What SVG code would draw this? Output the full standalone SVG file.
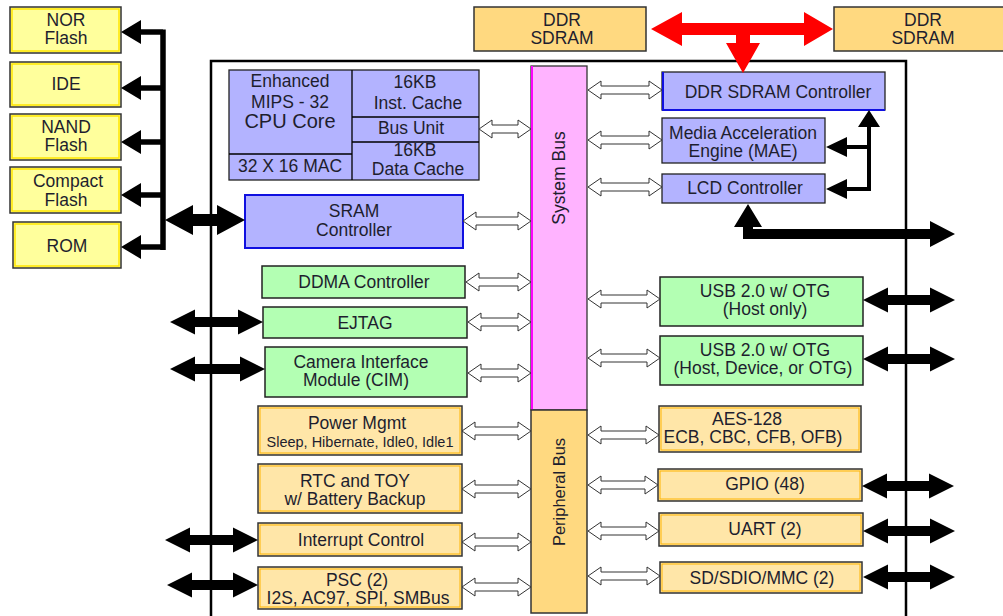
<svg xmlns="http://www.w3.org/2000/svg" width="1003" height="616" viewBox="0 0 1003 616">
<style>
.t{font-family:"Liberation Sans",Arial,sans-serif;font-size:17.5px;fill:#1e1e2e;text-anchor:middle}
.s{font-size:14.5px}
.b{font-size:20px}
.mem{fill:#ffff9c;stroke:#333;stroke-width:1.5}
.memi{fill:none;stroke:#ffe600;stroke-width:1.5}
.lav{fill:#b3b3ff;stroke:#222;stroke-width:1.3}
.grn{fill:#b3ffb3;stroke:#222;stroke-width:1.5}
.org{fill:#ffe6a8;stroke:#333;stroke-width:1.5}
.orgi{fill:none;stroke:#ffb400;stroke-width:1}
.ddr{fill:#ffd980;stroke:#333;stroke-width:1.5}
.hol{fill:#fff;stroke:#333;stroke-width:1}
.blk{fill:#000}
.red{fill:#ff0000}
.ln{fill:none;stroke:#000}
</style>
<rect width="1003" height="616" fill="#fff"/>
<path class="ln" d="M211 616 V61 H906 V616" stroke-width="2.5"/>

<g id="nor"><rect class="mem" x="10" y="7" width="111" height="46"/><rect class="memi" x="12" y="9" width="107" height="42"/><text class="t" x="66" y="26">NOR</text><text class="t" x="66" y="44">Flash</text></g>
<g id="ide"><rect class="mem" x="10" y="62" width="111" height="45"/><rect class="memi" x="12" y="64" width="107" height="41"/><text class="t" x="66" y="90">IDE</text></g>
<g id="nand"><rect class="mem" x="10" y="114" width="111" height="46"/><rect class="memi" x="12" y="116" width="107" height="42"/><text class="t" x="66" y="133">NAND</text><text class="t" x="66" y="151">Flash</text></g>
<g id="cf"><rect class="mem" x="10" y="167" width="111" height="46"/><rect class="memi" x="12" y="169" width="107" height="42"/><text class="t" x="68" y="187">Compact</text><text class="t" x="66" y="206">Flash</text></g>
<g id="rom"><rect class="mem" x="13" y="222" width="108" height="46"/><rect class="memi" x="15" y="224" width="104" height="42"/><text class="t" x="67" y="252">ROM</text></g>

<g id="ddr1"><rect class="ddr" x="474" y="7" width="172" height="44"/><text class="t" x="562" y="26">DDR</text><text class="t" x="562" y="44">SDRAM</text></g>
<g id="ddr2"><rect class="ddr" x="834" y="7" width="175" height="44"/><text class="t" x="923" y="26">DDR</text><text class="t" x="923" y="44">SDRAM</text></g>

<g id="cpu">
<rect class="lav" x="229" y="70" width="250" height="110"/>
<path class="ln" d="M352 70 V180 M229 154 H352 M352 117 H479 M352 142 H479" stroke-width="1.3"/>
<text class="t" x="290" y="87">Enhanced</text><text class="t" x="290" y="108">MIPS - 32</text><text class="t b" x="290" y="128">CPU Core</text>
<text class="t" x="290" y="172">32 X 16 MAC</text>
<text class="t" x="415" y="88">16KB</text><text class="t" x="418" y="109">Inst. Cache</text>
<text class="t" x="411" y="134">Bus Unit</text>
<text class="t" x="415" y="156">16KB</text><text class="t" x="418" y="175">Data Cache</text>
</g>
<g id="sram"><rect class="lav" x="245" y="195" width="218" height="53" style="stroke:#1010e0;stroke-width:2"/><text class="t" x="354" y="217">SRAM</text><text class="t" x="354" y="236">Controller</text></g>
<g id="ddma"><rect class="grn" x="262" y="266" width="203" height="32"/><text class="t" x="364" y="288">DDMA Controller</text></g>
<g id="ejtag"><rect class="grn" x="263" y="307" width="204" height="31"/><text class="t" x="365" y="329">EJTAG</text></g>
<g id="cim"><rect class="grn" x="265" y="347" width="202" height="50"/><text class="t" x="361" y="368">Camera Interface</text><text class="t" x="356" y="386">Module (CIM)</text></g>
<g id="pwr"><rect class="org" x="258" y="406" width="204" height="49"/><rect class="orgi" x="260" y="408" width="200" height="45"/><text class="t" x="357" y="429">Power Mgmt</text><text class="t s" x="360" y="447">Sleep, Hibernate, Idle0, Idle1</text></g>
<g id="rtc"><rect class="org" x="258" y="464" width="204" height="49"/><rect class="orgi" x="260" y="466" width="200" height="45"/><text class="t" x="355" y="487">RTC and TOY</text><text class="t" x="355" y="505">w/ Battery Backup</text></g>
<g id="intc"><rect class="org" x="258" y="523" width="204" height="33"/><rect class="orgi" x="260" y="525" width="200" height="29"/><text class="t" x="361" y="546">Interrupt Control</text></g>
<g id="psc"><rect class="org" x="258" y="567" width="204" height="42"/><rect class="orgi" x="260" y="569" width="200" height="38"/><text class="t" x="357" y="586">PSC (2)</text><text class="t" x="358" y="604">I2S, AC97, SPI, SMBus</text></g>

<g id="sysbus"><rect x="531" y="66" width="56" height="344" fill="#ffb3ff" stroke="#333" stroke-width="1.3"/><path d="M532 66 V410" stroke="#ff00ff" stroke-width="2"/><text class="t" transform="translate(565 178) rotate(-90)">System Bus</text></g>
<g id="perbus"><rect x="531" y="410" width="56" height="203" class="ddr"/><text class="t" style="font-size:16.5px" transform="translate(565 492) rotate(-90)">Peripheral Bus</text></g>

<g id="ddrc"><rect class="lav" x="662" y="72" width="223" height="38"/><path d="M663 72 V110 H885" fill="none" stroke="#1010e0" stroke-width="2"/><text class="t" x="778" y="98">DDR SDRAM Controller</text></g>
<g id="mae"><rect class="lav" x="662" y="118" width="163" height="45"/><text class="t" x="743" y="139">Media Acceleration</text><text class="t" x="743" y="157">Engine (MAE)</text></g>
<g id="lcd"><rect class="lav" x="662" y="174" width="163" height="29"/><text class="t" x="745" y="194">LCD Controller</text></g>
<g id="usb1"><rect class="grn" x="660" y="277" width="203" height="49"/><text class="t" x="765" y="297">USB 2.0 w/ OTG</text><text class="t" x="765" y="315">(Host only)</text></g>
<g id="usb2"><rect class="grn" x="660" y="336" width="203" height="49"/><text class="t" x="765" y="356">USB 2.0 w/ OTG</text><text class="t" x="763" y="374">(Host, Device, or OTG)</text></g>
<g id="aes"><rect class="org" x="659" y="406" width="202" height="46"/><rect class="orgi" x="661" y="408" width="198" height="42"/><text class="t" x="747" y="425">AES-128</text><text class="t" x="753" y="443">ECB, CBC, CFB, OFB)</text></g>
<g id="gpio"><rect class="org" x="658" y="469" width="204" height="32"/><rect class="orgi" x="660" y="471" width="200" height="28"/><text class="t" x="765" y="490">GPIO (48)</text></g>
<g id="uart"><rect class="org" x="659" y="513" width="204" height="33"/><rect class="orgi" x="661" y="515" width="200" height="29"/><text class="t" x="765" y="535">UART (2)</text></g>
<g id="sd"><rect class="org" x="660" y="562" width="202" height="31"/><rect class="orgi" x="662" y="564" width="198" height="27"/><text class="t" x="762" y="584">SD/SDIO/MMC (2)</text></g>

<g id="connectors">
<path class="hol" d="M479 129 L492 120 V125 H518 V120 L531 129 L518 138 V133 H492 V138 Z"/>
<path class="hol" d="M463 221 L476 212 V217 H518 V212 L531 221 L518 230 V225 H476 V230 Z"/>
<path class="hol" d="M466 282 L479 273 V278 H518 V273 L531 282 L518 291 V286 H479 V291 Z"/>
<path class="hol" d="M468 322 L481 313 V318 H518 V313 L531 322 L518 331 V326 H481 V331 Z"/>
<path class="hol" d="M468 373 L481 364 V369 H518 V364 L531 373 L518 382 V377 H481 V382 Z"/>
<path class="hol" d="M462 431 L475 422 V427 H518 V422 L531 431 L518 440 V435 H475 V440 Z"/>
<path class="hol" d="M462 489 L475 480 V485 H518 V480 L531 489 L518 498 V493 H475 V498 Z"/>
<path class="hol" d="M462 542 L475 533 V538 H518 V533 L531 542 L518 551 V546 H475 V551 Z"/>
<path class="hol" d="M462 587 L475 578 V583 H518 V578 L531 587 L518 596 V591 H475 V596 Z"/>
<path class="hol" d="M588 90 L601 81 V86 H649 V81 L662 90 L649 99 V94 H601 V99 Z"/>
<path class="hol" d="M588 140 L601 131 V136 H649 V131 L662 140 L649 149 V144 H601 V149 Z"/>
<path class="hol" d="M588 187 L601 178 V183 H649 V178 L662 187 L649 196 V191 H601 V196 Z"/>
<path class="hol" d="M588 299 L601 290 V295 H647 V290 L660 299 L647 308 V303 H601 V308 Z"/>
<path class="hol" d="M588 358 L601 349 V354 H647 V349 L660 358 L647 367 V362 H601 V367 Z"/>
<path class="hol" d="M588 435 L601 426 V431 H646 V426 L659 435 L646 444 V439 H601 V444 Z"/>
<path class="hol" d="M588 485 L601 476 V481 H645 V476 L658 485 L645 494 V489 H601 V494 Z"/>
<path class="hol" d="M588 531 L601 522 V527 H646 V522 L659 531 L646 540 V535 H601 V540 Z"/>
<path class="hol" d="M588 576 L601 567 V572 H647 V567 L660 576 L647 585 V580 H601 V585 Z"/>

<path class="ln" d="M163 29.5 V250 M140 32 H163 M140 88 H163 M140 142 H163 M140 195 H163 M140 247 H163" stroke-width="5.5"/>
<path class="blk" d="M121 32 L141 20 V44 Z M121 88 L141 76 V100 Z M121 142 L141 130 V154 Z M121 195 L141 183 V207 Z M121 247 L141 235 V259 Z"/>
<path class="blk" d="M165 220 L193 205 V214 H217 V205 L245 220 L217 235 V226 H193 V235 Z"/>

<path class="blk" d="M170 322 L195 309.5 V317 H238 V309.5 L263 322 L238 334.5 V327 H195 V334.5 Z"/>
<path class="blk" d="M170 369 L195 356.5 V364 H240 V356.5 L265 369 L240 381.5 V374 H195 V381.5 Z"/>
<path class="blk" d="M165 540 L190 527.5 V535 H233 V527.5 L258 540 L233 552.5 V545 H190 V552.5 Z"/>
<path class="blk" d="M167 585 L192 572.5 V580 H233 V572.5 L258 585 L233 597.5 V590 H192 V597.5 Z"/>

<path class="blk" d="M863 300 L888 287.5 V295 H930 V287.5 L955 300 L930 312.5 V305 H888 V312.5 Z"/>
<path class="blk" d="M863 359 L888 346.5 V354 H930 V346.5 L955 359 L930 371.5 V364 H888 V371.5 Z"/>
<path class="blk" d="M862 486 L887 473.5 V481 H929 V473.5 L954 486 L929 498.5 V491 H887 V498.5 Z"/>
<path class="blk" d="M863 531 L888 518.5 V526 H930 V518.5 L955 531 L930 543.5 V536 H888 V543.5 Z"/>
<path class="blk" d="M863 577 L888 564.5 V572 H930 V564.5 L955 577 L930 589.5 V582 H888 V589.5 Z"/>

<path class="ln" d="M869 126 V191 M845 147 H871 M845 189 H871" stroke-width="4"/>
<path class="blk" d="M869 110 L880 127 H858 Z M826 147 L847 137 V157 Z M826 189 L847 179 V199 Z"/>
<path class="blk" d="M748 204 L762 227 H753 V229 H930 V221 L955 234 L930 247 V239 H743 V227 H734 Z"/>

<path class="red" d="M651 29 L682 12 V23 H804 V12 L833 29 L804 46 V35 H682 V46 Z"/>
<path class="red" d="M736 34 H750 V43 H760 L743 73 L726 43 H736 Z"/>
</g>
</svg>
